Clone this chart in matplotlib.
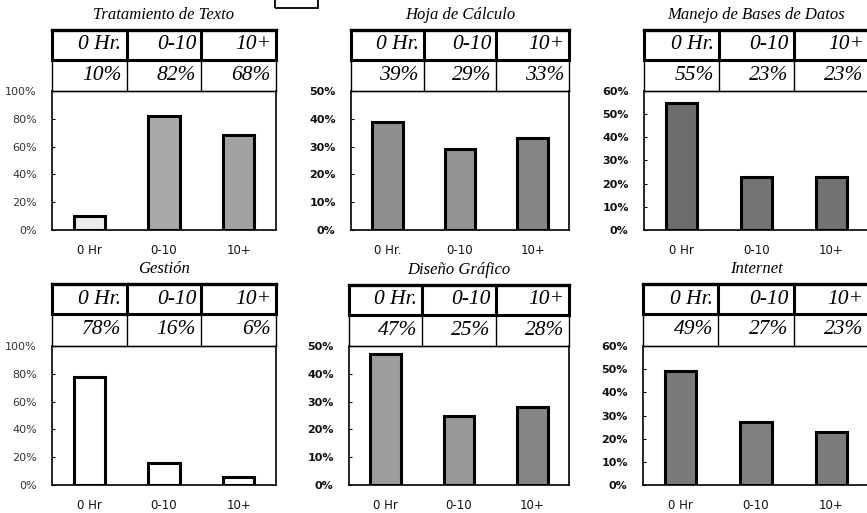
import matplotlib.pyplot as plt
from matplotlib.patches import Rectangle

# datos (porcentajes)
titulos = ["Tratamiento de Texto", "Hoja de Cálculo", "Manejo de Bases de Datos",
           "Gestión", "Diseño Gráfico", "Internet"]
cabecera = ["0 Hr.", "0-10", "10+"]
tratamiento = [10, 82, 68]
hoja = [39, 29, 33]
bases = [55, 23, 23]
gestion = [78, 16, 6]
diseno = [47, 25, 28]
internet = [49, 27, 23]
valores = [tratamiento, hoja, bases, gestion, diseno, internet]

etiquetas_x = [["0 Hr", "0-10", "10+"], ["0 Hr.", "0-10", "10+"], ["0 Hr", "0-10", "10+"],
               ["0 Hr", "0-10", "10+"], ["0 Hr", "0-10", "10+"], ["0 Hr", "0-10", "10+"]]
y_max = [100, 50, 60, 100, 50, 60]
y_paso = [20, 10, 10, 20, 10, 10]

# estilo
colores = [["#ececec", "#a9a9a9", "#a2a2a2"],
           ["#8e8e8e", "#949494", "#858585"],
           ["#6c6c6c", "#747474", "#727272"],
           ["#ffffff", "#ffffff", "#ffffff"],
           ["#9c9c9c", "#979797", "#858585"],
           ["#7a7a7a", "#808080", "#7c7c7c"]]
negrita = [False, True, True, False, True, True]

W, H = 867, 513
# (izq, der) en pixeles de cada panel, y (arriba tabla, division, abajo tabla, base eje)
cols = [(52, 276), (351, 569), (644, 869), (52, 276), (349, 569), (643, 869)]
filas = [(30, 60, 91, 230), (30, 60, 91, 230), (30, 60, 91, 230),
         (284, 314, 346, 485), (285, 315, 346, 485), (284, 314, 346, 485)]

fig = plt.figure(figsize=(W / 100, H / 100), dpi=100)

for i in range(6):
    x0, x1 = cols[i]
    t_top, t_mid, t_bot, base = filas[i]

    # ---- barras ----
    ax = fig.add_axes([x0 / W, 1 - base / H, (x1 - x0) / W, (base - t_bot) / H])
    ax.bar(range(3), valores[i], width=0.42, color=colores[i], edgecolor="black",
           linewidth=2.2, zorder=3)
    ax.set_xlim(-0.5, 2.5)
    ax.set_ylim(0, y_max[i])
    ticks = list(range(0, y_max[i] + 1, y_paso[i]))
    ax.set_yticks(ticks)
    peso = "bold" if negrita[i] else "normal"
    col_txt = "#111111" if negrita[i] else "#333333"
    ax.set_yticklabels([f"{t}%" for t in ticks], fontsize=8, family="DejaVu Sans",
                       fontweight=peso, color=col_txt)
    ax.set_xticks(range(3))
    ax.set_xticklabels(etiquetas_x[i], fontsize=8.5, family="DejaVu Sans", color="#111111")
    ax.tick_params(axis="y", direction="in", length=2, width=0.8, pad=11)
    ax.tick_params(axis="x", length=0, pad=10)
    for s in ["left", "bottom", "right"]:
        ax.spines[s].set_linewidth(1.2)
    ax.spines["top"].set_linewidth(0.9)

    # ---- tabla de encima ----
    tb = fig.add_axes([x0 / W, 1 - t_bot / H, (x1 - x0) / W, (t_bot - t_top) / H])
    tb.set_xlim(0, 3)
    tb.set_ylim(0, 2)
    tb.axis("off")
    r = (t_bot - t_mid) / (t_bot - t_top) * 2  # altura de la fila de valores
    tb.axhline(2, color="black", lw=2.4, clip_on=False)
    tb.axhline(r, color="black", lw=2.2, clip_on=False)
    tb.axhline(0, color="black", lw=1.0, clip_on=False)
    for k in range(4):
        tb.axvline(k, ymin=r / 2, ymax=1, color="black", lw=2.2, clip_on=False)
        tb.axvline(k, ymin=0, ymax=r / 2, color="black", lw=1.0, clip_on=False)
    for k in range(3):
        tb.text(k + 0.93, (2 + r) / 2, cabecera[k], ha="right", va="center",
                fontsize=15.5, family="Liberation Serif", style="italic")
        tb.text(k + 0.93, r / 2, f"{valores[i][k]}%", ha="right", va="center",
                fontsize=15.5, family="Liberation Serif", style="italic")
    tb.text(1.5, 2 + 0.22, titulos[i], ha="center", va="bottom", fontsize=12,
            family="Liberation Serif", style="italic", transform=tb.transData)

# recuadro cortado arriba
fig.patches.append(Rectangle((275 / W, 1 - 8 / H), 43 / W, 20 / H, transform=fig.transFigure,
                             fill=False, edgecolor="black", lw=1.3))

fig.savefig("out.png", dpi=100)
